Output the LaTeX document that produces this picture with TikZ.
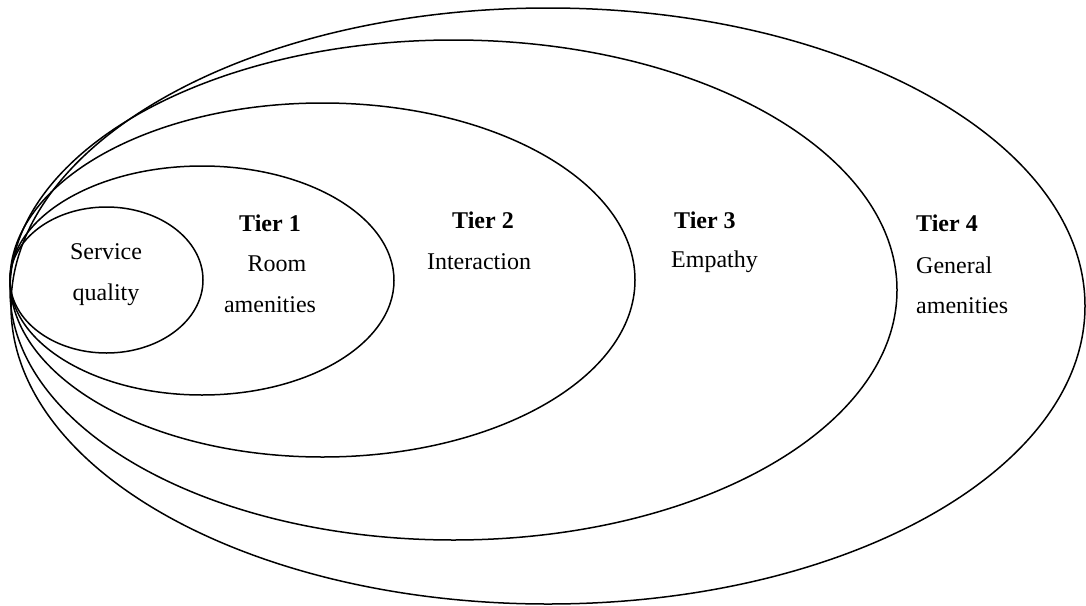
\documentclass[tikz,border=0pt]{standalone}
\usepackage{fontspec}
\setmainfont{Liberation Serif}
\begin{document}
\begin{tikzpicture}[x=1pt,y=-1pt,
  ring/.style={draw=black,line width=1.5pt},
  lbl/.style={font=\fontsize{24}{28}\selectfont,inner sep=0pt},
  tier/.style={lbl,font=\fontsize{24}{28}\selectfont\bfseries}]
\useasboundingbox (0,0) rectangle (1086,605);
% nested rings, all touching on the left
\draw[ring] (548,306) ellipse [x radius=537, y radius=298];
\draw[ring] (453.5,290) ellipse [x radius=443.5, y radius=250];
\draw[ring] (322.5,280) ellipse [x radius=312.5, y radius=177];
\draw[ring] (202,280.5) ellipse [x radius=192, y radius=114.5];
\draw[ring] (106.5,280) ellipse [x radius=96.5, y radius=73];
% labels
\node[lbl] (sq1) at (106,252) {Service};
\node[lbl] (sq2) at (106,295) {quality};
\node[tier] (t1) at (270,223) {Tier 1};
\node[lbl] (t1a) at (277,264) {Room};
\node[lbl] (t1b) at (270,305) {amenities};
\node[tier] (t2) at (483,220) {Tier 2};
\node[lbl] (t2a) at (479,262) {Interaction};
\node[tier,anchor=west] (t3) at (674,220) {Tier 3};
\node[lbl,anchor=west] (t3a) at (671,262) {Empathy};
\node[tier,anchor=west] (t4) at (916,223) {Tier 4};
\node[lbl,anchor=west] (t4a) at (916,265) {General};
\node[lbl,anchor=west] (t4b) at (916,306) {amenities};
\end{tikzpicture}
\end{document}
